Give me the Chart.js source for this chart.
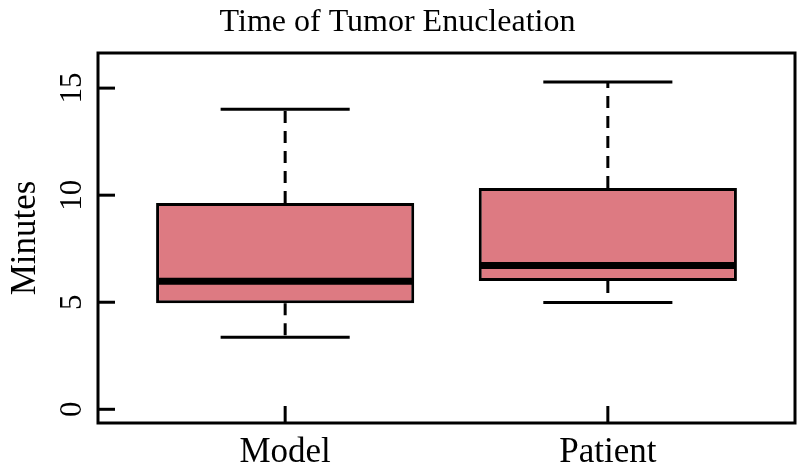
<!DOCTYPE html>
<html>
<head>
<meta charset="utf-8">
<script src="https://cdn.jsdelivr.net/npm/chart.js@4/dist/chart.umd.min.js"></script>
<style>
  html, body { margin: 0; padding: 0; background: #fff; }
  #wrap { width: 800px; height: 474px; }
</style>
</head>
<body>
<div id="wrap"><canvas id="myChart" width="800" height="474"></canvas></div>
<script>
// box plot summary
const categories = ["Model", "Patient"];
const whiskerLow = [3.36, 4.99];
const q1 = [4.95, 5.99];
const median = [5.98, 6.72];
const q3 = [9.63, 10.34];
const whiskerHigh = [14.01, 15.28];
const yTicks = [0, 5, 10, 15];

const serif = "'Liberation Serif', 'DejaVu Serif', serif";

const boxPlot = {
  id: "boxPlot",
  afterDatasetsDraw(chart) {
    const ctx = chart.ctx;
    const y = chart.scales.y;
    const bars = chart.getDatasetMeta(0).data;
    function line(x1, y1, x2, y2) {
      ctx.beginPath();
      ctx.moveTo(x1, y1);
      ctx.lineTo(x2, y2);
      ctx.stroke();
    }
    ctx.save();
    ctx.strokeStyle = "#000";
    bars.forEach(function (bar, i) {
      const half = bar.width / 2;
      const cx = bar.x;
      // dashed whiskers
      ctx.lineWidth = 3;
      ctx.setLineDash([12, 8]);
      line(cx, y.getPixelForValue(q3[i]), cx, y.getPixelForValue(whiskerHigh[i]));
      line(cx, y.getPixelForValue(q1[i]), cx, y.getPixelForValue(whiskerLow[i]));
      ctx.setLineDash([]);
      // caps
      line(cx - half / 2, y.getPixelForValue(whiskerHigh[i]), cx + half / 2, y.getPixelForValue(whiskerHigh[i]));
      line(cx - half / 2, y.getPixelForValue(whiskerLow[i]), cx + half / 2, y.getPixelForValue(whiskerLow[i]));
      // median
      ctx.lineWidth = 7;
      line(cx - half + 1, y.getPixelForValue(median[i]), cx + half - 1, y.getPixelForValue(median[i]));
    });
    ctx.restore();
  },
  afterDraw(chart) {
    const ctx = chart.ctx;
    const a = chart.chartArea;
    const x = chart.scales.x;
    const y = chart.scales.y;
    ctx.save();
    ctx.strokeStyle = "#000";
    ctx.lineWidth = 3;
    ctx.strokeRect(a.left, a.top, a.right - a.left, a.bottom - a.top);
    // inward ticks, like the original
    y.ticks.forEach(function (t) {
      const py = y.getPixelForValue(t.value);
      ctx.beginPath();
      ctx.moveTo(a.left, py);
      ctx.lineTo(a.left + 17, py);
      ctx.stroke();
    });
    x.ticks.forEach(function (t) {
      const px = x.getPixelForValue(t.value);
      ctx.beginPath();
      ctx.moveTo(px, a.bottom);
      ctx.lineTo(px, a.bottom - 17);
      ctx.stroke();
    });
    // rotated y tick labels
    ctx.fillStyle = "#000";
    ctx.font = "31px " + serif;
    ctx.textAlign = "center";
    ctx.textBaseline = "alphabetic";
    y.ticks.forEach(function (t) {
      const py = y.getPixelForValue(t.value);
      ctx.save();
      ctx.translate(81, py);
      ctx.rotate(-Math.PI / 2);
      ctx.fillText(String(t.value), 0, 0);
      ctx.restore();
    });
    ctx.restore();
  }
};

const boxData = categories.map(function (c, i) {
  return { x: i + 1, y: [q1[i], q3[i]] };
});

const config = {
  type: "bar",
  data: {
    datasets: [{
      data: boxData,
      backgroundColor: "#DD7A82",
      borderColor: "#000",
      borderWidth: 3,
      borderSkipped: false,
      categoryPercentage: 1,
      barPercentage: 0.8
    }]
  },
  options: {
    responsive: false,
    animation: false,
    layout: { padding: { left: 0, right: 5, top: 0, bottom: 0 } },
    plugins: {
      legend: { display: false },
      tooltip: { enabled: false },
      title: {
        display: true,
        text: "Time of Tumor Enucleation",
        color: "#000",
        font: { family: serif, size: 32, weight: "normal", lineHeight: 1 },
        padding: { top: 7, bottom: 14 }
      }
    },
    scales: {
      x: {
        type: "linear",
        min: 0.42,
        max: 2.58,
        offset: false,
        grid: { display: false, drawTicks: false },
        border: { display: false },
        afterBuildTicks: function (scale) {
          scale.ticks = categories.map(function (c, i) { return { value: i + 1 }; });
        },
        afterFit: function (scale) { scale.height = 51; },
        ticks: {
          color: "#000",
          padding: 9,
          font: { family: serif, size: 35 },
          callback: function (v) { return categories[v - 1]; }
        }
      },
      y: {
        min: -0.64,
        max: 16.64,
        grid: { display: false, drawTicks: false },
        border: { display: false },
        afterBuildTicks: function (scale) {
          scale.ticks = yTicks.map(function (v) { return { value: v }; });
        },
        afterFit: function (scale) { scale.width = 98; },
        ticks: { display: false },
        title: {
          display: true,
          text: "Minutes",
          color: "#000",
          font: { family: serif, size: 35, lineHeight: 1 },
          padding: { top: 8, bottom: 0 }
        }
      }
    }
  },
  plugins: [boxPlot]
};

new Chart("myChart", config);
</script>
</body>
</html>
